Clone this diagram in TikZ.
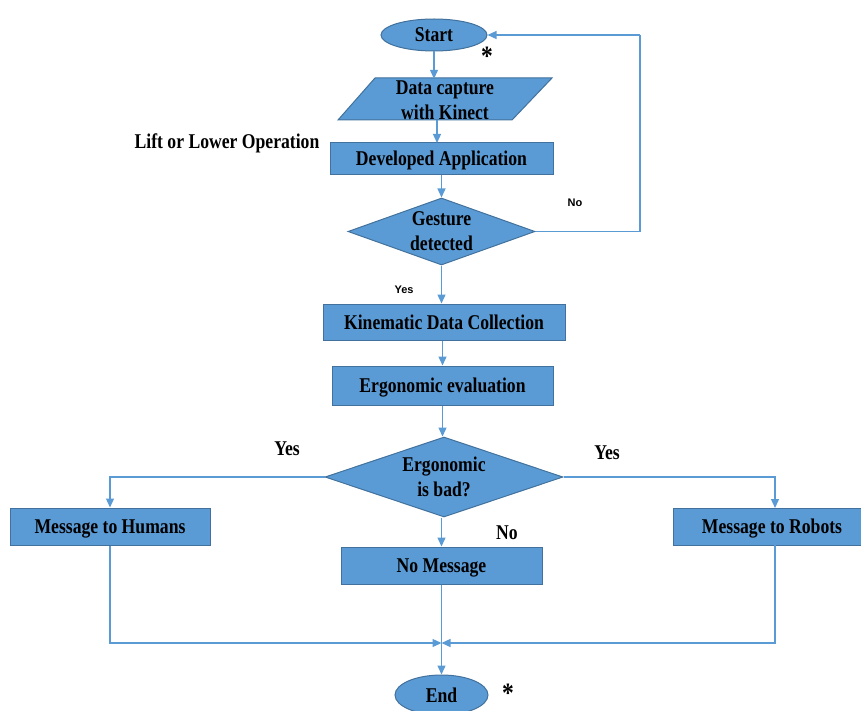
\documentclass[tikz,border=0pt]{standalone}
\usepackage{fontspec}
\setmainfont{Liberation Serif}[FakeStretch=0.84]
\newfontfamily\labsans{Liberation Sans}
\usetikzlibrary{shapes.geometric,arrows.meta,calc}
\definecolor{boxfill}{HTML}{5B9BD5}
\definecolor{boxline}{HTML}{41719C}
\definecolor{conn}{HTML}{5B9BD5}
\tikzset{
  box/.style={draw=boxline,fill=boxfill,line width=1pt,inner sep=0pt,font=\bfseries\fontsize{21}{24}\selectfont,align=center},
  rbox/.style={box,text height=18pt,text depth=4pt},
  ell/.style={box,ellipse},
  dia/.style={box,diamond},
  txt/.style={inner sep=0pt,font=\bfseries\fontsize{21}{25}\selectfont,align=center},
  lab/.style={inner sep=0pt,font=\bfseries\fontsize{21}{24}\selectfont},
  slab/.style={inner sep=0pt,font=\labsans\bfseries\fontsize{11}{13}\selectfont},
  star/.style={inner sep=0pt,font=\bfseries\fontsize{28}{28}\selectfont},
  arr/.style={draw=conn,line width=1.3pt,-{Triangle[length=9pt,width=8pt]}},
  ln/.style={draw=conn,line width=1.3pt},
}
\begin{document}
\begin{tikzpicture}[x=1pt,y=-1pt]
\useasboundingbox (0,0) rectangle (861,711);
% nodes
\node[ell,minimum width=106pt,minimum height=32pt] (start) at (434,35) {};
\node[txt] at (start) {Start};
\node[star] (s1) at (487,56) {*};
\path[draw=boxline,fill=boxfill,line width=1pt] (338,120) -- (375,78) -- (552,78) -- (512,120) -- cycle;
\node[txt,minimum width=140pt,minimum height=42pt] (dc) at (445,100) {Data capture\\with Kinect};
\node[rbox,minimum width=223pt,minimum height=32pt] (dev) at (441.5,159) {Developed Application};
\node[lab] (lift) at (227,143) {Lift or Lower Operation};
\node[dia,minimum width=187pt,minimum height=67pt] (g) at (441.5,231.5) {};
\node[txt] at (g) {Gesture\\detected};
\node[slab] (no1) at (575,203) {No};
\node[slab] (yes1) at (404,290) {Yes};
\node[rbox,minimum width=242pt,minimum height=36pt] (kin) at (444,322) {Kinematic Data Collection};
\node[rbox,minimum width=221pt,minimum height=39pt] (eval) at (442.5,385.5) {Ergonomic evaluation};
\node[dia,minimum width=238pt,minimum height=80pt] (eb) at (444,477) {};
\node[txt] at (eb) {Ergonomic\\is bad?};
\node[lab] (yesl) at (287,449) {Yes};
\node[lab] (yesr) at (607,453) {Yes};
\node[lab] (no2) at (507,533) {No};
\node[rbox,minimum width=200pt,minimum height=37pt] (hum) at (110,526.5) {Message to Humans};
\node[rbox,minimum width=198pt,minimum height=37pt] (rob) at (772,526.5) {Message to Robots};
\node[rbox,minimum width=201pt,minimum height=37pt] (nm) at (441.5,565.5) {No Message};
\node[ell,minimum width=93pt,minimum height=40pt] (end) at (441.5,695) {};
\node[txt] at (end) {End};
\node[star] (s2) at (508,693) {*};
\coordinate (loop) at (640,35);
\coordinate (jn) at (441.5,643);
% connectors
\draw[arr] (start.south) -- (start.south |- dc.north);
\draw[arr] (437,120) -- (437,143);
\draw[arr] (dev.south) -- (g.north);
\draw[ln] (g.east) -| (loop);
\draw[arr] (loop) -- (start.east);
\draw[arr] (g.south) -- (g.south |- kin.north);
\draw[arr] (kin.south -| eval) -- (eval.north);
\draw[arr] (eval.south) -- (eval.south |- eb.north);
\draw[arr] (eb.west) -| (hum.north);
\draw[arr] (eb.east) -| (775,508);
\draw[arr] (eb.south -| nm) -- (nm.north);
\draw[arr] (hum.south) |- (jn);
\draw[arr] (775,545) |- (jn);
\draw[arr] (nm.south) -- (end.north);
\end{tikzpicture}
\end{document}
